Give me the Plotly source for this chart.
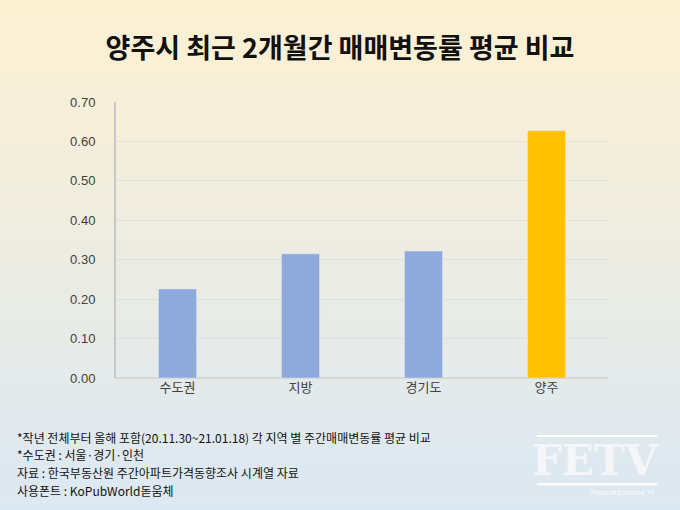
import plotly.graph_objects as go

categories = ["수도권", "지방", "경기도", "양주"]
values = [0.226, 0.315, 0.322, 0.627]
colors = ["#8EA9DB", "#8EA9DB", "#8EA9DB", "#FFC000"]
notes = [
    "*작년 전체부터 올해 포함(20.11.30~21.01.18) 각 지역 별 주간매매변동률 평균 비교",
    "*수도권 : 서울·경기·인천",
    "자료 : 한국부동산원 주간아파트가격동향조사 시계열 자료",
    "사용폰트 : KoPubWorld돋움체",
]

fig = go.Figure(go.Bar(x=categories, y=values, marker_color=colors, width=0.31))

# vertical gradient background: pale yellow at top to pale blue at bottom
top = (253, 241, 210)
bot = (218, 231, 244)
n = 40
shapes = []
for i in range(n):
    t = i / (n - 1)
    c = tuple(round(top[k] + (bot[k] - top[k]) * t) for k in range(3))
    shapes.append(dict(type="rect", xref="paper", yref="paper", layer="below",
                       x0=-0.3, x1=1.3, y0=1.4 - (i + 1) * 2.0 / n - 0.002,
                       y1=1.4 - i * 2.0 / n, fillcolor="rgb(%d,%d,%d)" % c,
                       line=dict(width=0)))
# thin lines framing the logo
for yy in (-0.21, -0.385):
    shapes.append(dict(type="line", xref="paper", yref="paper", x0=0.855, x1=1.1,
                       y0=yy, y1=yy, line=dict(color="white", width=2)))

fig.update_layout(
    width=680, height=510,
    margin=dict(l=116, r=72, t=102, b=132),
    paper_bgcolor="rgba(0,0,0,0)", plot_bgcolor="rgba(0,0,0,0)",
    shapes=shapes,
    font=dict(family="Noto Sans CJK KR", color="#404040", size=13),
    title=dict(text="<b>양주시 최근 2개월간 매매변동률 평균 비교</b>", x=0.5, xanchor="center",
               y=0.905, yanchor="middle",
               font=dict(size=27, color="#111111", family="Noto Sans CJK KR")),
    xaxis=dict(showline=False, ticks="", tickfont=dict(size=13, color="#404040")),
    yaxis=dict(range=[0, 0.7], dtick=0.1, tickformat=".2f", showline=True,
               linecolor="#C8C8C8", linewidth=2, gridcolor="rgba(200,200,200,0.35)",
               zeroline=True, zerolinecolor="#D8D8D8", ticklabelstandoff=16,
               tickfont=dict(size=13, color="#404040", family="Liberation Sans")),
    showlegend=False,
)

for i, line in enumerate(notes):
    fig.add_annotation(text=line, xref="paper", yref="paper", x=-0.205, y=-0.214 - i * 0.064,
                       xanchor="left", yanchor="middle", showarrow=False,
                       font=dict(size=12, color="#111111"))

fig.add_annotation(text="<b>FETV</b>", xref="paper", yref="paper", x=0.975, y=-0.3,
                   xanchor="center", yanchor="middle", showarrow=False,
                   font=dict(size=42, color="#F4F6F9", family="DejaVu Serif"))
fig.add_annotation(text="Financial Economic TV", xref="paper", yref="paper", x=1.03, y=-0.415,
                   xanchor="center", yanchor="middle", showarrow=False,
                   font=dict(size=6, color="#FFFFFF"))

fig.write_html("out.html", config={"displayModeBar": False},
               post_script="document.body.style.margin='0';")
